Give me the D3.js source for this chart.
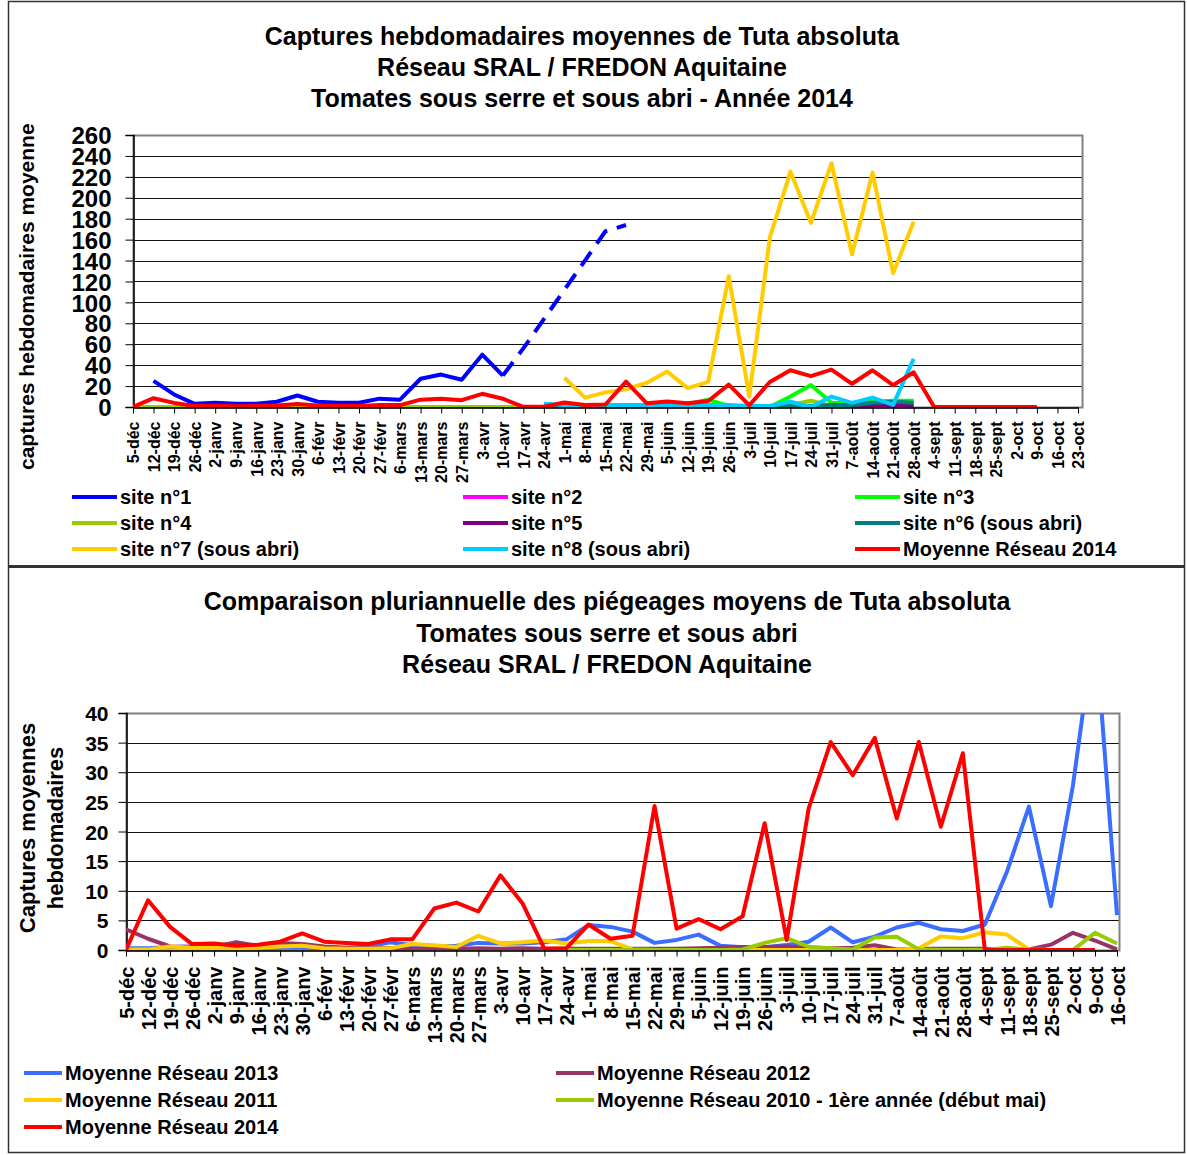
<!DOCTYPE html>
<html>
<head>
<meta charset="utf-8">
<script src="https://cdn.jsdelivr.net/npm/d3@7/dist/d3.min.js"></script>
<style>
body{margin:0;background:#fff}
text{font-family:"Liberation Sans",Arial,sans-serif;font-weight:bold;fill:#000}
</style>
</head>
<body>
<script>
var width=1187,height=1155;
var _=null;

// semaines (axe x)
var semaines=["5-déc","12-déc","19-déc","26-déc","2-janv","9-janv","16-janv","23-janv","30-janv","6-févr","13-févr","20-févr","27-févr","6-mars","13-mars","20-mars","27-mars","3-avr","10-avr","17-avr","24-avr","1-mai","8-mai","15-mai","22-mai","29-mai","5-juin","12-juin","19-juin","26-juin","3-juil","10-juil","17-juil","24-juil","31-juil","7-août","14-août","21-août","28-août","4-sept","11-sept","18-sept","25-sept","2-oct","9-oct","16-oct","23-oct"];
var semainesComp=semaines.slice(0,46);

var ticksHaut=[0,20,40,60,80,100,120,140,160,180,200,220,240,260];
var ticksBas=[0,5,10,15,20,25,30,35,40];

// graphique 2014, par site
var site1=[_,25,12,3,4,3,3,5,11,5,4,4,8,7,27,31,26,50,30,56,84,112,140,168,174];
var site1Pointille=18; // à partir du 10-avr la courbe est en tirets
var site2=[_,_,_,_,_,_,_,_,_,_,_,_,_,_,_,_,_,_,_,_,0,0,0,0,0,0,0,0,0,0,0,0,0,0,0,0,0,0,0];
var site3=[_,_,_,_,_,_,_,_,_,_,_,_,_,_,_,_,_,_,_,_,0,0,1,1,1,1,2,3,7,1,0,0,10,21,4,3,5,6,6];
var site4=[0,0,0,0,0,0,0,0,0,0,0,0,0,0,0,0,0,0,0,0,0,0,0,0,0,0,0,0,1,1,0,0,2,6,1,1,2,3,3];
var site5=[_,_,_,_,_,_,_,_,_,_,_,_,_,_,_,_,_,_,_,_,0,0,1,0,0,0,0,0,0,0,0,0,0,1,0,1,2,2,1];
var site6=[_,_,_,_,_,_,_,_,_,_,_,_,_,_,_,_,_,_,_,_,0,0,0,0,0,0,0,0,0,0,0,0,1,1,2,2,4,5,4];
var site7=[_,_,_,_,_,_,_,_,_,_,_,_,_,_,_,_,_,_,_,_,_,28,9,14,17,23,34,18,24,125,10,162,225,176,233,146,224,128,177];
var site8=[_,_,_,_,_,_,_,_,_,_,_,_,_,_,_,_,_,_,_,_,3,2,2,2,2,2,2,2,2,2,1,1,5,0,10,4,9,2,46];
var moy2014=[0,8.4,3.9,1.0,1.1,0.7,0.9,1.4,2.8,1.4,1.2,1.0,1.8,1.8,7.0,8.0,6.5,12.6,7.9,0.2,0.3,4.3,1.9,2.4,24.3,3.6,5.2,3.5,5.7,21.4,1.7,23.9,35.1,29.5,35.8,22.2,35.1,20.8,33.2,0,0,0,0,0,0];

// comparaison pluriannuelle
var moy2013=[0.3,0.3,0.5,0.6,0.5,0.4,0.4,0.4,0.4,0.3,0.4,0.6,1.3,0.8,0.6,0.7,1.2,1.1,1.1,1.3,1.8,4.2,3.9,3.1,1.2,1.7,2.6,0.7,0.45,0.45,0.85,1.4,3.8,1.3,2.25,3.8,4.6,3.5,3.2,4.3,13.2,24.2,7.4,27.8,55,5.9];
var moy2012=[3.5,1.9,0.6,0.5,0.5,1.3,0.7,1.2,1.0,0.6,0.4,0.3,0.3,0.2,0.2,0.2,0.3,0.2,0.3,0.2,0.2,0.2,0.2,0.2,0.2,0.2,0.3,0.4,0.5,0.5,0.6,0.4,0.3,0.4,0.8,0.1,0.2,0.2,0.2,0.2,0.1,0.1,0.9,2.9,1.6,0.1];
var moy2011=[0.1,0.1,0.6,0.4,0.4,0.3,0.4,0.6,0.7,0.3,0.2,0.2,0.3,1.0,0.8,0.5,2.4,1.1,1.3,1.6,1.1,1.5,1.5,0.1,0,0,0,0,0,0,0,0,0,0,0,0,0.3,2.3,2.0,3.0,2.6,0.1,0,0,0];
var moy2010=[_,_,_,_,_,_,_,_,_,_,_,_,_,_,_,_,_,_,_,_,0,0,0,0,0,0,0,0,0.1,1.2,2.0,0.55,0.3,0.1,2.1,2.25,0.1,0,0,0,0.4,0,0,0,2.9,1.1];

var nomsSites=["site n°1","site n°2","site n°3","site n°4","site n°5","site n°6 (sous abri)","site n°7 (sous abri)","site n°8 (sous abri)","Moyenne Réseau 2014"];
var couleursSites=["#0000FF","#FF00FF","#00FF00","#99CC00","#800080","#008080","#FFCC00","#00CCFF","#FF0000"];
var nomsComp=["Moyenne Réseau 2013","Moyenne Réseau 2012","Moyenne Réseau 2011","Moyenne Réseau 2010 - 1ère année (début mai)","Moyenne Réseau 2014"];
var couleursComp=["#3A6EFF","#993366","#FFCC00","#99CC00","#FF0000"];

var titreHaut=["Captures hebdomadaires moyennes de Tuta absoluta","Réseau SRAL / FREDON Aquitaine","Tomates sous serre et sous abri - Année 2014"];
var titreBas=["Comparaison pluriannuelle des piégeages moyens de Tuta absoluta","Tomates sous serre et sous abri","Réseau SRAL / FREDON Aquitaine"];


var svg=d3.select("body").append("svg").attr("width",width).attr("height",height)

// cadre général
svg.append("rect").attr("x",8.5).attr("y",1.5).attr("width",1176).attr("height",1151)
	.attr("fill","none").attr("stroke","#333").attr("stroke-width",1.5)
svg.append("line").attr("x1",8).attr("x2",1185).attr("y1",566.5).attr("y2",566.5)
	.attr("stroke","#333").attr("stroke-width",3)

function titres(lignes,cx,y0,pas){
	svg.append("g").selectAll("text").data(lignes).enter().append("text")
		.attr("x",cx).attr("y",(d,i)=>y0+i*pas)
		.attr("text-anchor","middle").attr("font-size",25)
		.text(d=>d)
}

function graphique(o){
	var x=d3.scalePoint().domain(o.categories).range([o.x0,o.x1])
	var y=d3.scaleLinear().domain([0,o.ymax]).range([o.y0,o.yTop])
	var g=svg.append("g")
	var id="clip"+o.nom

	g.append("clipPath").attr("id",id).append("rect")
		.attr("x",o.x0).attr("y",o.yTop).attr("width",o.right-o.x0).attr("height",o.y0-o.yTop)

	// grille
	g.selectAll("line.grille").data(o.yticks.slice(1,-1)).enter().append("line").attr("class","grille")
		.attr("x1",o.x0).attr("x2",o.right)
		.attr("y1",d=>Math.round(y(d))+0.5).attr("y2",d=>Math.round(y(d))+0.5)
		.attr("stroke","#111").attr("stroke-width",1)

	// bord de la zone de tracé
	g.append("rect").attr("x",o.x0+0.5).attr("y",Math.round(o.yTop)+0.5)
		.attr("width",o.right-o.x0).attr("height",Math.round(o.y0)-Math.round(o.yTop))
		.attr("fill","none").attr("stroke","#808080").attr("stroke-width",2)

	// axe y
	var ay=g.append("g").attr("transform","translate("+(o.x0+0.5)+",0)")
		.call(d3.axisLeft(y).tickValues(o.yticks).tickSize(8).tickPadding(o.yPad))
	ay.select(".domain").attr("stroke","#000").attr("stroke-width",1.5)
	ay.selectAll(".tick line").attr("stroke","#000")
	ay.selectAll("text").attr("font-size",o.yFont).attr("font-family",null).attr("dy","0.36em")

	// axe x
	var ax=g.append("g").attr("transform","translate(0,"+(Math.round(o.y0)+0.5)+")")
		.call(d3.axisBottom(x).tickSize(6).tickSizeOuter(0))
	ax.select(".domain").attr("stroke","#000").attr("stroke-width",1.5)
	ax.selectAll(".tick line").attr("stroke","#000")
	ax.selectAll("text").attr("font-size",o.xFont).attr("font-family",null)
		.attr("transform","rotate(-90)").attr("text-anchor","end")
		.attr("x",-o.xPad).attr("y",0).attr("dy","0.36em")

	// courbes
	var courbes=g.append("g").attr("clip-path","url(#"+id+")")
	o.series.forEach(function(s){
		var ligne=d3.line()
			.defined((d,i)=>d!=null && (s.de==null || i>=s.de) && (s.a==null || i<=s.a))
			.x((d,i)=>x(o.categories[i])).y(d=>y(d))
		courbes.append("path").datum(s.valeurs)
			.attr("d",ligne).attr("fill","none")
			.attr("stroke",s.couleur).attr("stroke-width",4)
			.attr("stroke-linejoin","round")
			.attr("stroke-dasharray",s.tirets||null)
	})
}

function legende(noms,couleurs,colonnes,y0,pas,longueur){
	var n=colonnes.length
	var it=svg.append("g").selectAll("g").data(noms).enter().append("g")
		.attr("transform",(d,i)=>"translate("+colonnes[i%n]+","+(y0+Math.floor(i/n)*pas)+")")
	it.append("line").attr("x1",0).attr("x2",longueur).attr("y1",0).attr("y2",0)
		.attr("stroke",(d,i)=>couleurs[i]).attr("stroke-width",4)
	it.append("text").attr("x",longueur+3).attr("y",0).attr("dy","0.36em").attr("font-size",20).text(d=>d)
}

// ---- graphique du haut
titres(titreHaut,582,45,31)

var seriesHaut=[site2,site3,site4,site5,site6,site7,site8,moy2014].map((v,i)=>({valeurs:v,couleur:couleursSites[i+1]}))
seriesHaut.unshift({valeurs:site1,couleur:couleursSites[0],de:site1Pointille,tirets:"17,10"})
seriesHaut.unshift({valeurs:site1,couleur:couleursSites[0],a:site1Pointille})

graphique({nom:"haut",categories:semaines,x0:133,x1:1078,right:1082,y0:407,yTop:135,ymax:260,
	yticks:ticksHaut,yFont:24,yPad:14,xFont:16,xPad:14,series:seriesHaut})

svg.append("clipPath").attr("id","clipTitreY").append("rect").attr("x",0).attr("y",123).attr("width",60).attr("height",440)
svg.append("g").attr("clip-path","url(#clipTitreY)")
	.append("text")
	.attr("transform","translate(34,470) rotate(-90)").attr("font-size",21)
	.text("captures hebdomadaires moyennes")

legende(nomsSites,couleursSites,[72,463,855],497,26,45)

// ---- graphique du bas
titres(titreBas,607,610,31.5)

var seriesBas=[moy2013,moy2012,moy2011,moy2010,moy2014].map((v,i)=>({valeurs:v,couleur:couleursComp[i]}))
graphique({nom:"bas",categories:semainesComp,x0:126,x1:1117,right:1119,y0:950,yTop:713,ymax:40,
	yticks:ticksBas,yFont:21,yPad:10,xFont:20,xPad:16,series:seriesBas})

svg.append("text").attr("transform","translate(35,828) rotate(-90)").attr("text-anchor","middle")
	.attr("font-size",22).text("Captures moyennes")
svg.append("text").attr("transform","translate(63,828) rotate(-90)").attr("text-anchor","middle")
	.attr("font-size",22).text("hebdomadaires")

legende(nomsComp,couleursComp,[24,556],1073,27,38)
</script>
</body>
</html>
